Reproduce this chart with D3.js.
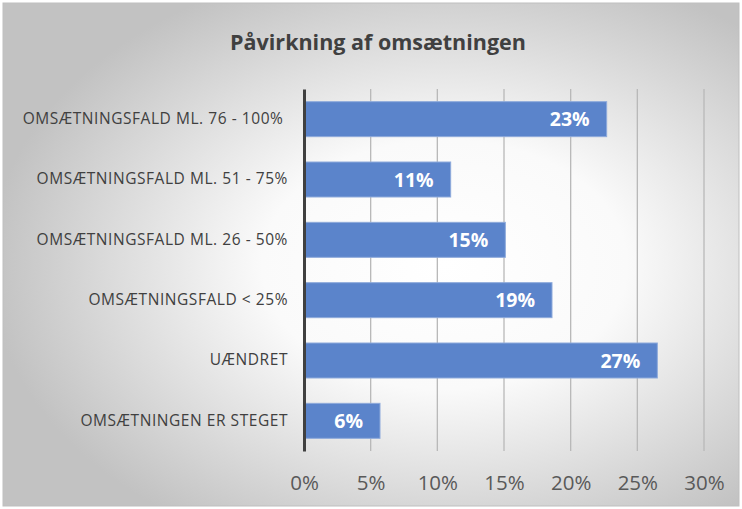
<!DOCTYPE html>
<html>
<head>
<meta charset="utf-8">
<script src="https://cdn.jsdelivr.net/npm/d3@7"></script>
<style>
  body { margin: 0; background: #fff; }
  svg { display: block; }
</style>
</head>
<body>
<div id="chart"></div>
<script>
// Påvirkning af omsætningen - vandret søjlediagram
var kategorier = [
  "OMSÆTNINGSFALD ML. 76 - 100% ",
  "OMSÆTNINGSFALD ML. 51 - 75%",
  "OMSÆTNINGSFALD ML. 26 - 50%",
  "OMSÆTNINGSFALD < 25%",
  "UÆNDRET",
  "OMSÆTNINGEN ER STEGET"
];
var andele = [0.227, 0.110, 0.151, 0.186, 0.265, 0.057];
var aksemaerker = [0, 0.05, 0.10, 0.15, 0.20, 0.25, 0.30];
var titel = "Påvirkning af omsætningen";

var width = 742, height = 509;
var margin = {left: 304, right: 38, top: 89, bottom: 58};

var svg = d3.select("#chart").append("svg")
    .attr("width", width)
    .attr("height", height);

// baggrund med radial gradient
var defs = svg.append("defs");
var grad = defs.append("radialGradient")
    .attr("id", "bg")
    .attr("cx", "60%").attr("cy", "52%").attr("r", "62%");
grad.append("stop").attr("offset", "0%").attr("stop-color", "#ffffff");
grad.append("stop").attr("offset", "40%").attr("stop-color", "#fafafa");
grad.append("stop").attr("offset", "100%").attr("stop-color", "#c2c2c2");

svg.append("rect")
    .attr("x", 3).attr("y", 3)
    .attr("width", width - 6).attr("height", height - 6)
    .attr("fill", "url(#bg)")
    .attr("stroke", "#bfbfbf")
    .attr("stroke-width", 1);

svg.append("text")
    .attr("x", 378).attr("y", 50)
    .attr("text-anchor", "middle")
    .style("font-family", "'Open Sans', sans-serif")
    .style("font-weight", "bold")
    .style("font-size", "21.5px")
    .style("fill", "#404040")
    .text(titel);

var x = d3.scaleLinear()
    .domain([0, 0.30])
    .range([margin.left, width - margin.right]);

var y = d3.scaleBand()
    .domain(kategorier)
    .range([margin.top, height - margin.bottom])
    .paddingInner(0.42)
    .paddingOuter(0.21);

// gitterlinjer
svg.append("g")
  .selectAll("line")
  .data(aksemaerker.slice(1))
  .enter()
  .append("line")
    .attr("x1", function(d) { return x(d); })
    .attr("x2", function(d) { return x(d); })
    .attr("y1", margin.top)
    .attr("y2", height - margin.bottom)
    .style("stroke", "#b8b8b8")
    .style("stroke-width", "1.3px");

var xAxis = d3.axisBottom(x)
    .tickValues(aksemaerker)
    .tickFormat(d3.format(".0%"))
    .tickSize(0)
    .tickPadding(24);

var gx = svg.append("g")
    .attr("transform", "translate(0," + (height - margin.bottom) + ")")
    .call(xAxis);
gx.select(".domain").remove();
gx.selectAll("text")
    .style("font-family", "'Open Sans', sans-serif")
    .style("font-size", "20.5px")
    .style("fill", "#595959");

// søjler
svg.append("g")
  .selectAll("rect")
  .data(andele)
  .enter()
  .append("rect")
    .attr("x", x(0))
    .attr("y", function(d, i) { return y(kategorier[i]); })
    .attr("width", function(d) { return x(d) - x(0); })
    .attr("height", y.bandwidth())
    .style("fill", "#5b84cb")
    .style("stroke", "#8eaadb")
    .style("stroke-width", "1px");

svg.append("g")
  .selectAll("text")
  .data(andele)
  .enter()
  .append("text")
    .attr("x", function(d) { return x(d) - 17; })
    .attr("y", function(d, i) { return y(kategorier[i]) + y.bandwidth() / 2; })
    .attr("dy", "0.36em")
    .attr("text-anchor", "end")
    .style("font-family", "'Open Sans', sans-serif")
    .style("font-weight", "bold")
    .style("font-size", "19.5px")
    .style("fill", "#ffffff")
    .text(function(d) { return d3.format(".0%")(d); });

var yAxis = d3.axisLeft(y).tickSize(0).tickPadding(16);
var gy = svg.append("g")
    .attr("transform", "translate(" + margin.left + ",0)")
    .call(yAxis);
gy.select(".domain")
    .style("stroke", "#404040")
    .style("stroke-width", "3px");
gy.selectAll("text")
    .style("font-family", "'Open Sans', sans-serif")
    .style("font-size", "15.5px")
    .style("letter-spacing", "0.55px")
    .style("white-space", "pre")
    .style("fill", "#404040");
</script>
</body>
</html>
